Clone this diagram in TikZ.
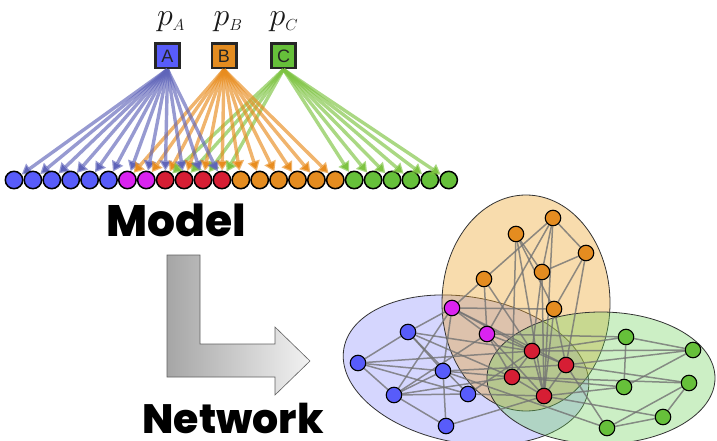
\RequirePackage{fix-cm}
\documentclass[tikz,border=0pt]{standalone}
\usepackage{amsmath}
\usepackage{fontspec}
\setsansfont{Liberation Sans}
\newfontfamily\heavyfont{Poppins ExtraBold}
\usetikzlibrary{backgrounds,positioning,arrows.meta}

\definecolor{nblue}{RGB}{88,92,250}
\definecolor{nmag}{RGB}{218,35,240}
\definecolor{nred}{RGB}{214,30,52}
\definecolor{norange}{RGB}{228,140,32}
\definecolor{ngreen}{RGB}{102,192,58}
\definecolor{ablue}{RGB}{95,100,185}
\definecolor{aorange}{RGB}{232,140,30}
\definecolor{agreen}{RGB}{125,195,65}
\definecolor{eblue}{RGB}{88,92,250}
\definecolor{eorange}{RGB}{236,162,40}
\definecolor{egreen}{RGB}{110,210,90}

\begin{document}
\begin{tikzpicture}
		[x=1pt,y=-1pt,node distance=0pt,
		 v/.style= {minimum size=17.4pt,inner sep=0pt,circle,draw=black,line width=1.5pt},
		 w/.style= {minimum size=15.5pt,inner sep=0pt,circle,draw=black,line width=1.1pt},
		 box/.style= {minimum size=24.4pt,inner sep=0pt,draw=black!85,line width=2.6pt,
		              text=black!85,font=\sffamily\fontsize{18}{18}\selectfont},
		 lab/.style= {inner sep=0pt,text=black!90,font=\fontsize{32}{32}\selectfont},
		 big/.style= {inner sep=0pt,font=\heavyfont\fontsize{44}{44}\selectfont},
		 ta/.style= {arrows={Triangle[width=12pt,length=10pt]-},line width=3.4pt,draw opacity=0.65,draw=ablue},
		 tb/.style= {ta,draw=aorange},
		 tc/.style= {ta,draw=agreen},
		 link/.style= {draw=gray!90!black,line width=1.5pt,draw opacity=0.8},
		 cloud/.style= {draw=black!80,line width=0.8pt}]

		\useasboundingbox (0,0) rectangle (717,441);

		% model
		\node[lab] (pA) at (171,22) {$p_{\scriptscriptstyle A}$};
		\node[lab] (pB) at (228,22) {$p_{\scriptscriptstyle B}$};
		\node[lab] (pC) at (284,22) {$p_{\scriptscriptstyle C}$};

		\node[box,fill=nblue] (A) at (167.5,56) {A};
		\node[box,fill=norange] (B) at (224,56) {B};
		\node[box,fill=ngreen] (C) at (283.5,56) {C};

		\node[v,fill=nblue] (n1) at (14,180) {}
			edge [ta]	(A.south);
		\node[v,fill=nblue,right=of n1] (n2) {}
			edge [ta]	(A.south);
		\node[v,fill=nblue,right=of n2] (n3) {}
			edge [ta]	(A.south);
		\node[v,fill=nblue,right=of n3] (n4) {}
			edge [ta]	(A.south);
		\node[v,fill=nblue,right=of n4] (n5) {}
			edge [ta]	(A.south);
		\node[v,fill=nblue,right=of n5] (n6) {}
			edge [ta]	(A.south);
		\node[v,fill=nmag,right=of n6] (n7) {}
			edge [ta]	(A.south)
			edge [tb]	(B.south);
		\node[v,fill=nmag,right=of n7] (n8) {}
			edge [ta]	(A.south)
			edge [tb]	(B.south);
		\node[v,fill=nred,right=of n8] (n9) {}
			edge [ta]	(A.south)
			edge [tb]	(B.south)
			edge [tc]	(C.south);
		\node[v,fill=nred,right=of n9] (n10) {}
			edge [ta]	(A.south)
			edge [tb]	(B.south)
			edge [tc]	(C.south);
		\node[v,fill=nred,right=of n10] (n11) {}
			edge [ta]	(A.south)
			edge [tb]	(B.south)
			edge [tc]	(C.south);
		\node[v,fill=nred,right=of n11] (n12) {}
			edge [ta]	(A.south)
			edge [tb]	(B.south)
			edge [tc]	(C.south);
		\node[v,fill=norange,right=of n12] (n13) {}
			edge [tb]	(B.south);
		\node[v,fill=norange,right=of n13] (n14) {}
			edge [tb]	(B.south);
		\node[v,fill=norange,right=of n14] (n15) {}
			edge [tb]	(B.south);
		\node[v,fill=norange,right=of n15] (n16) {}
			edge [tb]	(B.south);
		\node[v,fill=norange,right=of n16] (n17) {}
			edge [tb]	(B.south);
		\node[v,fill=norange,right=of n17] (n18) {}
			edge [tb]	(B.south);
		\node[v,fill=ngreen,right=of n18] (n19) {}
			edge [tc]	(C.south);
		\node[v,fill=ngreen,right=of n19] (n20) {}
			edge [tc]	(C.south);
		\node[v,fill=ngreen,right=of n20] (n21) {}
			edge [tc]	(C.south);
		\node[v,fill=ngreen,right=of n21] (n22) {}
			edge [tc]	(C.south);
		\node[v,fill=ngreen,right=of n22] (n23) {}
			edge [tc]	(C.south);
		\node[v,fill=ngreen,right=of n23] (n24) {}
			edge [tc]	(C.south);

		\node[big] (model) at (176,220) {Model};

		% bent arrow
		\shade[left color=gray!70,right color=gray!10,draw=gray!75!black,line width=0.6pt]
			(167,255) -- (200,255) -- (200,344) -- (275,344) -- (275,327) -- (310,361)
			-- (275,395) -- (275,377) -- (167,377) -- cycle;

		\node[big,font=\heavyfont\fontsize{41}{41}\selectfont] (network) at (233,418) {Network};

		% network
		\begin{scope}[on background layer]
			\draw[cloud,fill=eblue,fill opacity=0.25,rotate around={-10:(466,370)}] (466,370) ellipse [x radius=124,y radius=73];
			\draw[cloud,fill=eorange,fill opacity=0.38] (526,303) ellipse [x radius=84,y radius=108];
			\draw[cloud,fill=egreen,fill opacity=0.35] (601,378) ellipse [x radius=114,y radius=66];
		\end{scope}

		\node[w,fill=norange] (o1) at (516,234) {};
		\node[w,fill=norange] (o2) at (553,218) {};
		\node[w,fill=norange] (o3) at (586,253) {};
		\node[w,fill=norange] (o4) at (542,272) {};
		\node[w,fill=norange] (o5) at (484,279) {};
		\node[w,fill=norange] (o6) at (554,309) {};

		\node[w,fill=nmag] (m1) at (452,308) {};
		\node[w,fill=nmag] (m2) at (487,334) {};

		\node[w,fill=nblue] (b1) at (408,332) {};
		\node[w,fill=nblue] (b2) at (358,363) {};
		\node[w,fill=nblue] (b3) at (443,371) {};
		\node[w,fill=nblue] (b4) at (394,395) {};
		\node[w,fill=nblue] (b5) at (468,394) {};
		\node[w,fill=nblue] (b6) at (446,426) {};

		\node[w,fill=nred] (r1) at (532,351) {};
		\node[w,fill=nred] (r2) at (566,365) {};
		\node[w,fill=nred] (r3) at (512,377) {};
		\node[w,fill=nred] (r4) at (544,396) {};

		\node[w,fill=ngreen] (g1) at (626,337) {};
		\node[w,fill=ngreen] (g2) at (693,350) {};
		\node[w,fill=ngreen] (g3) at (624,387) {};
		\node[w,fill=ngreen] (g4) at (689,383) {};
		\node[w,fill=ngreen] (g5) at (663,417) {};
		\node[w,fill=ngreen] (g6) at (607,428) {};

		\begin{scope}[on background layer]
			\path[link] (o1) edge (o4) edge (o6) edge (r3) edge (r4);
			\path[link] (o2) edge (o3) edge (o4) edge (o5) edge (m2) edge (r4);
			\path[link] (o3) edge (o4) edge (o6) edge (r2);
			\path[link] (o4) edge (r1) edge (r4);
			\path[link] (o5) edge (m1) edge (m2) edge (r1);
			\path[link] (o6) edge (m1) edge (r2) edge (r4);
			\path[link] (m1) edge (m2) edge (b1) edge (b3) edge (b4) edge (r1) edge (r2);
			\path[link] (m2) edge (b4) edge (r1) edge (r3) edge (r4) edge (g1);
			\path[link] (b1) edge (b2) edge (b3) edge (b5) edge (r1) edge (r3);
			\path[link] (b2) edge (b3) edge (b4) edge (b5) edge (r1);
			\path[link] (b3) edge (b4) edge (b6) edge (r2) edge (r3) edge (g6);
			\path[link] (b4) edge (b5) edge (b6) edge (r3);
			\path[link] (b5) edge (r1) edge (r4);
			\path[link] (b6) edge (r4);
			\path[link] (r1) edge (r2) edge (r3) edge (r4) edge (g1) edge (g2);
			\path[link] (r2) edge (r4) edge (g2) edge (g4) edge (g6);
			\path[link] (r3) edge (r4) edge (g3) edge (g4);
			\path[link] (r4) edge (g3) edge (g5);
			\path[link] (g1) edge (g2) edge (g3);
			\path[link] (g3) edge (g2);
			\path[link] (g5) edge (g4) edge (g6);
			\path[link] (g6) edge (g4);
		\end{scope}

	\end{tikzpicture}
\end{document}
